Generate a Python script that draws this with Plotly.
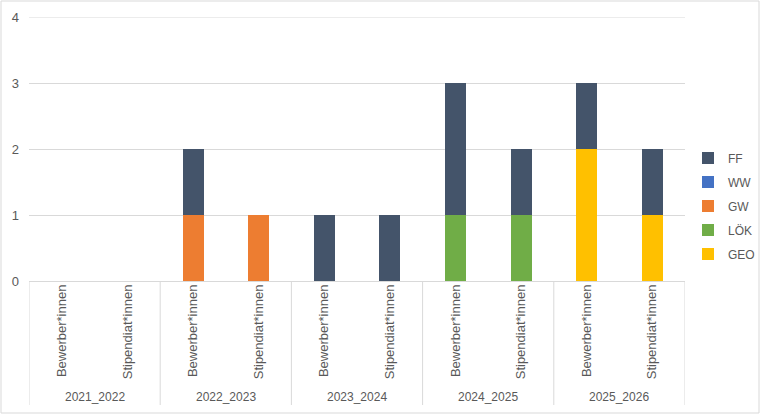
import plotly.graph_objects as go

years = ["2021_2022", "2022_2023", "2023_2024", "2024_2025", "2025_2026"]
roles = ["Bewerber*innen", "Stipendiat*innen"]
categories = [(y, r) for y in years for r in roles]

# values per category (order: 2021_2022 Bew, Stip, 2022_2023 Bew, Stip, ...)
series_names = ["GEO", "LÖK", "GW", "WW", "FF"]
GEO = [0, 0, 0, 0, 0, 0, 0, 0, 2, 1]
LOEK = [0, 0, 0, 0, 0, 0, 1, 1, 0, 0]
GW = [0, 0, 1, 1, 0, 0, 0, 0, 0, 0]
WW = [0, 0, 0, 0, 0, 0, 0, 0, 0, 0]
FF = [0, 0, 1, 0, 1, 1, 2, 1, 1, 1]
series_values = [GEO, LOEK, GW, WW, FF]
colors = ["#FFC000", "#70AD47", "#ED7D31", "#4472C4", "#44546A"]
legend_ranks = [5, 4, 3, 2, 1]
y_max = 4

W, H = 761, 415
ml, mr, mt, mb = 29, W - 685, 17, H - 281
pw, ph = W - ml - mr, H - mt - mb

xs = list(range(len(categories)))

fig = go.Figure()
for name, vals, col, rk in zip(series_names, series_values, colors, legend_ranks):
    fig.add_trace(go.Bar(
        x=xs, y=vals, name=name, legendgroup=name, legendrank=rk,
        marker=dict(color=col, line=dict(width=0)),
        width=0.32,
    ))

font_color = "#595959"
fig.update_layout(
    width=W, height=H,
    barmode="stack",
    margin=dict(l=ml, r=mr, t=mt, b=mb, autoexpand=False),
    paper_bgcolor="white", plot_bgcolor="white",
    font=dict(family="Liberation Sans, Arial, sans-serif", size=12, color=font_color),
    showlegend=True,
    legend=dict(
        traceorder="grouped", tracegroupgap=5,
        x=(688 - ml) / pw, xanchor="left",
        y=(281 - 206) / ph, yanchor="middle",
        font=dict(size=12, color=font_color),
        itemwidth=30,
        bgcolor="rgba(0,0,0,0)",
    ),
    xaxis=dict(
        range=[-0.5, len(categories) - 0.5],
        tickvals=xs, ticktext=[r for _, r in categories],
        tickangle=-90, showgrid=False, zeroline=False,
        showline=False, ticks="", ticklen=0,
        tickfont=dict(size=13, color=font_color),
        fixedrange=True,
    ),
    yaxis=dict(
        range=[0, y_max], dtick=1, tick0=0,
        showgrid=True, gridcolor="#D9D9D9", gridwidth=1,
        zeroline=True, zerolinecolor="#D9D9D9", zerolinewidth=1,
        showline=False, ticks="", ticklabelstandoff=9,
        tickfont=dict(size=13, color=font_color),
        fixedrange=True,
    ),
)

# Top gridline (at the range edge)
fig.add_shape(type="line", xref="paper", yref="y", x0=0, x1=1, y0=y_max, y1=y_max,
              line=dict(color="#D9D9D9", width=1), layer="below")

# Separators for multilevel category axis
sep_bottom = -(405 - 281) / ph
for k in range(len(years) + 1):
    xb = -0.5 + 2 * k
    fig.add_shape(type="line", xref="x", yref="paper",
                  x0=xb, x1=xb, y0=0, y1=sep_bottom,
                  line=dict(color="#D9D9D9", width=1))

# Year labels
for i, yr in enumerate(years):
    fig.add_annotation(x=2 * i + 0.5, y=-(397 - 281) / ph, xref="x", yref="paper",
                       text=yr, showarrow=False, yanchor="middle",
                       font=dict(size=12, color=font_color))

# Outer chart border
fig.add_shape(type="rect", xref="paper", yref="paper",
              x0=-(ml - 1) / pw, x1=1 + (mr - 2) / pw,
              y0=-(mb - 2) / ph, y1=1 + (mt - 1) / ph,
              line=dict(color="#D9D9D9", width=1), fillcolor="rgba(0,0,0,0)")

fig.write_html("out.html", config={"displayModeBar": False},
               post_script="document.body.style.margin='0';document.body.style.padding='0';")
